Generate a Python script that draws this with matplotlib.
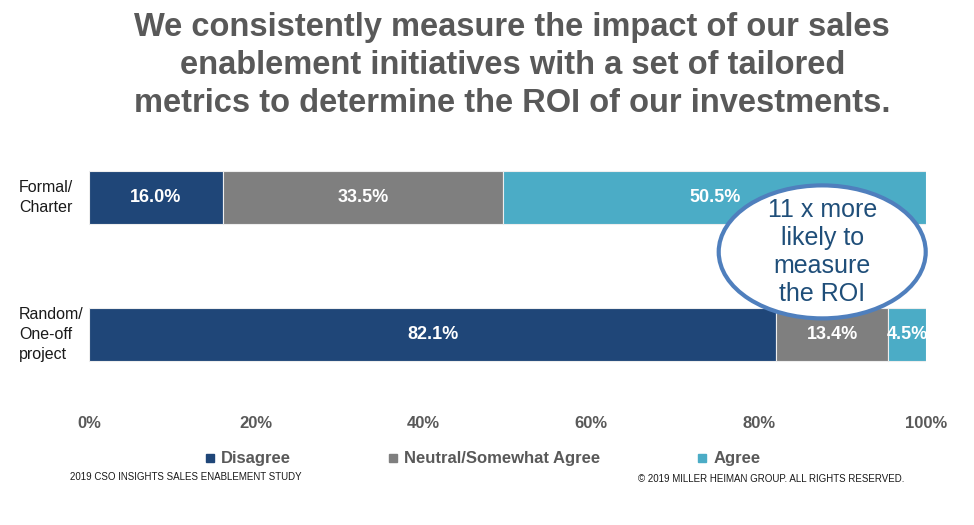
import matplotlib.pyplot as plt
from matplotlib.lines import Line2D
from matplotlib.patches import Ellipse

plt.rcParams['font.family'] = ['Liberation Sans', 'DejaVu Sans']

# ---- data ---- #
categories = ["Random/\nOne-off\nproject", "Formal/\nCharter"]
series = ["Disagree", "Neutral/Somewhat Agree", "Agree"]
disagree = [82.1, 16.0]
neutral = [13.4, 33.5]
agree = [4.5, 50.5]
colors = ["#1f4678", "#7f7f7f", "#4bacc6"]
ticks = [0, 20, 40, 60, 80, 100]

title = ("We consistently measure the impact of our sales\n"
         "enablement initiatives with a set of tailored\n"
         "metrics to determine the ROI of our investments.")

fig = plt.figure(figsize=(9.74, 5.25), dpi=100)
ax = fig.add_axes([89 / 974, 1 - 380 / 525, 837 / 974, 230 / 525])

ypos = list(range(len(categories)))
left = [0] * len(categories)
for vals, name, col in zip([disagree, neutral, agree], series, colors):
    bars = ax.barh(ypos, vals, left=left, height=0.39, color=col,
                   edgecolor="#eeeeee", linewidth=0.8, label=name)
    for b, v in zip(bars, vals):
        ax.text(b.get_x() + b.get_width() / 2, b.get_y() + b.get_height() / 2,
                f"{v:.1f}%", ha="center", va="center", color="white",
                fontsize=13, fontweight="bold")
    left = [l + v for l, v in zip(left, vals)]

ax.set_xlim(0, 100)
ax.set_ylim(-0.332, 1.347)
ax.set_xticks(ticks)
ax.set_xticklabels([f"{t}%" for t in ticks], fontsize=12, fontweight="bold",
                   color="#595959")
ax.tick_params(axis="x", length=0, pad=26)
ax.set_yticks([])
for s in ax.spines.values():
    s.set_visible(False)

# category labels, left aligned at figure edge
tr = ax.get_yaxis_transform()
for y, c in zip(ypos, categories):
    ax.text(-70 / 837, y, c, transform=tr, ha="left", va="center",
            fontsize=11.5, color="#1a1a1a", linespacing=1.4)

# callout ellipse
el = Ellipse((0.876, 0.557), 207 / 837, 133 / 230, transform=ax.transAxes,
             facecolor="white", edgecolor="#4f7fbd", linewidth=3, zorder=5,
             clip_on=False)
ax.add_patch(el)
ax.text(0.876, 0.557, "11 x more\nlikely to\nmeasure\nthe ROI", transform=ax.transAxes,
        ha="center", va="center", fontsize=18, color="#1f4e79", zorder=6,
        linespacing=1.2)

fig.text(0.526, 0.977, title, ha="center", va="top", fontsize=23.5,
         fontweight="bold", color="#595959", linespacing=1.3)

handles = [Line2D([], [], marker="s", linestyle="none", color=c, markersize=6)
           for c in colors]
fig.legend(handles, series, loc="center", bbox_to_anchor=(0.495, 1 - 459 / 525),
           ncol=3, frameon=False, handlelength=0.7, handletextpad=0.3,
           columnspacing=5.8, prop={"size": 12, "weight": "bold"},
           labelcolor="#595959")

fig.text(70 / 974, 1 - 477 / 525, "2019 CSO INSIGHTS SALES ENABLEMENT STUDY",
         ha="left", va="center", fontsize=7, color="#1a1a1a")
fig.text(904 / 974, 1 - 479 / 525, "\u00a9 2019 MILLER HEIMAN GROUP. ALL RIGHTS RESERVED.",
         ha="right", va="center", fontsize=7, color="#1a1a1a")

plt.savefig("out.png", dpi=100)
